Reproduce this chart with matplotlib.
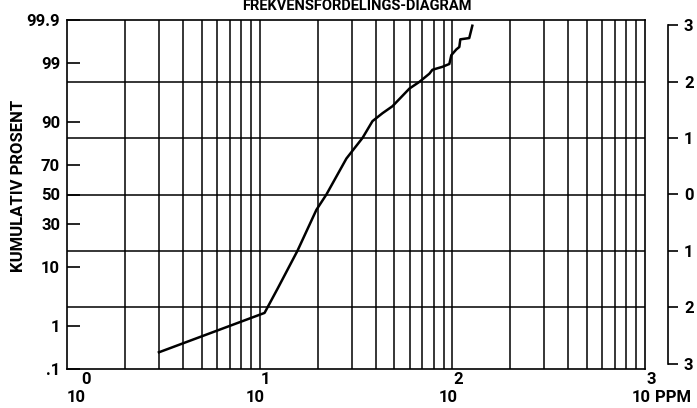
import math

import matplotlib
matplotlib.use("Agg")
import matplotlib.pyplot as plt
from matplotlib.transforms import blended_transform_factory, offset_copy

# cumulative distribution
ppm = [3.0, 10.6, 12.4, 15.7, 19.7, 22.2, 28.2, 34.2, 38.5, 43.4, 48.9, 59.9,
       67.5, 76.0, 78.8, 88.7, 96.5, 98.8, 104.9, 108.7, 110.0, 122.4, 127.0]
percent = [0.26, 1.8, 4.8, 15.9, 39.3, 50.0, 73.8, 84.2, 90.3, 92.5, 94.1, 96.97,
           97.7, 98.38, 98.64, 98.81, 98.96, 99.32, 99.49, 99.55, 99.70, 99.72, 99.86]

left_ticks = [99.9, 99, 90, 70, 50, 30, 10, 1, 0.1]
left_labels = ["99.9", "99", "90", "70", "50", "30", "10", "1", ".1"]
sigma_ticks = [3, 2, 1, 0, -1, -2, -3]
sigma_grid = [-2, -1, 0, 1, 2]
decades = [0, 1, 2, 3]

TITLE = "FREKVENSFORDELINGS-DIAGRAM"
YLABEL = "KUMULATIV PROSENT"
UNIT = "PPM"


def probit(p):
    # inverse normal cdf by bisection, p as a fraction
    lo, hi = -8.0, 8.0
    for _ in range(80):
        mid = 0.5 * (lo + hi)
        if 0.5 * (1 + math.erf(mid / math.sqrt(2))) < p:
            lo = mid
        else:
            hi = mid
    return 0.5 * (lo + hi)


FONT = dict(family="Roboto", fontweight="bold", fontsize=12)

W, H = 697, 408
fig = plt.figure(figsize=(W / 100, H / 100), dpi=100)
ax = fig.add_axes([67 / W, (H - 369) / H, 578 / W, 349 / H])

ymin, ymax = probit(0.001), probit(0.999)

# grid
for k in decades[:-1]:
    for m in range(2, 10):
        ax.axvline(m * 10 ** k, color="black", lw=1.1, zorder=1)
    if k > 0:
        ax.axvline(10 ** k, color="black", lw=1.1, zorder=1)
for s in sigma_grid:
    ax.axhline(s, color="black", lw=1.1, zorder=1)

ys = [probit(p / 100) for p in percent]
ax.plot(ppm, ys, color="black", lw=1.8, zorder=3)

ax.set_xscale("log")
ax.set_xlim(1, 1000)
ax.set_ylim(ymin, ymax)
for sp in ax.spines.values():
    sp.set_linewidth(1.2)

ax.set_xticks([])
ax.minorticks_off()
ax.set_yticks([probit(p / 100) for p in left_ticks])
ax.set_yticklabels(left_labels, **FONT)
ax.tick_params(axis="y", direction="in", length=9, width=1.2, pad=5)

# decade labels: "10" with the exponent above it
trans = blended_transform_factory(ax.transData, ax.transAxes)
for k in decades:
    shift = 9 if k == 0 else -4
    t10 = offset_copy(trans, fig=fig, x=shift, y=-28, units="dots")
    ax.text(10 ** k, 0, "10", transform=t10, ha="center", va="center", **FONT)
    texp = offset_copy(trans, fig=fig, x=shift + 10, y=-10, units="dots")
    ax.text(10 ** k, 0, str(k), transform=texp, ha="center", va="center", **FONT)
ax.text(1.0, 0, UNIT, transform=offset_copy(ax.transAxes, fig=fig, x=28, y=-28, units="dots"),
        ha="center", va="center", **FONT)

# sigma scale on the right
ax2 = fig.add_axes([668 / W - 0.001, (H - 369) / H, 0.001, 349 / H])
ax2.set_ylim(ymin, ymax)
ax2.patch.set_visible(False)
ax2.set_xticks([])
for name, sp in ax2.spines.items():
    sp.set_visible(name == "right")
ax2.spines["right"].set_bounds(-3, 3)
ax2.spines["right"].set_linewidth(1.2)
ax2.yaxis.tick_right()
ax2.set_yticks(sigma_ticks)
ax2.set_yticklabels([str(abs(s)) for s in sigma_ticks], **FONT)
ax2.tick_params(axis="y", direction="out", length=7.5, width=1.2, pad=4)

fig.text(356.5 / W, 1 - 10 / H, TITLE, fontsize=10.5,
         **{k: v for k, v in FONT.items() if k != "fontsize"}, ha="center", va="baseline")
fig.text(19 / W, 1 - 186 / H, YLABEL, rotation=90, ha="center", va="center", **FONT)

fig.savefig("out.png", dpi=100)
